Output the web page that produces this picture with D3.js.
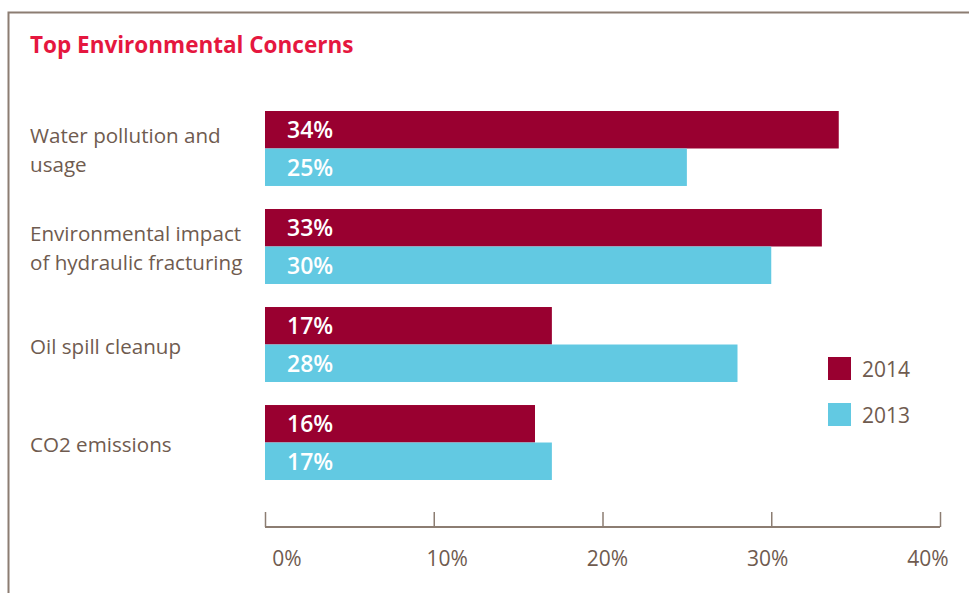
<!DOCTYPE html>
<html lang="en">
<head>
    <meta charset="UTF-8">
    <title>Top Environmental Concerns</title>
    <script src="https://d3js.org/d3.v7.min.js"></script>
    <style>
        html, body {
            margin: 0;
            background: #fff;
        }

        text {
            font-family: "Open Sans", "Noto Sans", sans-serif;
        }
    </style>
</head>
<body>
<div class="chart"></div>
<script>
    var categories = [["Water pollution and", "usage"], ["Environmental impact", "of hydraulic fracturing"], ["Oil spill cleanup"], ["CO2 emissions"]];
    var values2014 = [34, 33, 17, 16];
    var values2013 = [25, 30, 28, 17];
    var tickValues = [0, 10, 20, 30, 40];
    var series = ["2014", "2013"];

    var width = 969, height = 593;
    var brown = "#6f5b4f";
    var colors = {"2014": "#990030", "2013": "#62c9e2"};

    var svg = d3.select('.chart').append('svg').attr('width', width).attr('height', height);

    // frame
    svg.append('path')
        .attr('d', 'M8.5,593V12.5H969')
        .attr('fill', 'none')
        .attr('stroke', '#8c7d72')
        .attr('stroke-width', 2);

    svg.append('text')
        .attr('x', 30).attr('y', 53)
        .attr('fill', '#e5173f')
        .attr('font-size', 22.5)
        .attr('font-weight', 'bold')
        .text('Top Environmental Concerns');

    var x = d3.scaleLinear().domain([0, 40]).range([265, 940]);
    var y = d3.scaleBand().domain(d3.range(categories.length)).range([111, 480]).paddingInner(0.235).paddingOuter(0);
    var ySub = d3.scaleBand().domain(series).range([0, y.bandwidth()]);

    var groups = svg.selectAll('g.grp')
        .data(categories)
        .enter().append('g')
        .attr('class', 'grp')
        .attr('transform', function (d, i) { return 'translate(0,' + y(i) + ')'; });

    groups.each(function (cat, i) {
        var g = d3.select(this);
        var rows = [{s: "2014", v: values2014[i]}, {s: "2013", v: values2013[i]}];
        g.selectAll('rect').data(rows).enter().append('rect')
            .attr('x', x(0))
            .attr('y', function (d) { return ySub(d.s); })
            .attr('width', function (d) { return x(d.v) - x(0); })
            .attr('height', ySub.bandwidth())
            .attr('fill', function (d) { return colors[d.s]; });
        g.selectAll('text.val').data(rows).enter().append('text')
            .attr('class', 'val')
            .attr('x', 287)
            .attr('y', function (d) { return ySub(d.s) + ySub.bandwidth() / 2; })
            .attr('dy', '0.36em')
            .attr('fill', '#fff')
            .attr('font-size', 23)
            .attr('font-weight', 600)
            .text(function (d) { return d.v + '%'; });

        // category label
        var mid = y.bandwidth() / 2 + 2;
        var lh = 29;
        var t = g.append('text').attr('fill', brown).attr('font-size', 20.6);
        cat.forEach(function (line, k) {
            t.append('tspan')
                .attr('x', 30)
                .attr('y', mid + (k - (cat.length - 1) / 2) * lh)
                .attr('dy', '0.36em')
                .text(line);
        });
    });

    // axis
    var axis = d3.axisBottom(x).tickValues(tickValues).tickSize(15).tickSizeOuter(0).tickFormat('');
    var axisG = svg.append('g')
        .attr('transform', 'translate(0,527)')
        .call(axis);
    axisG.select('.domain').attr('stroke', '#8c7d72').attr('stroke-width', 2).attr('d', 'M' + x(0) + ',0H' + x(40));
    axisG.selectAll('.tick line').attr('stroke', '#8c7d72').attr('stroke-width', 1.5).attr('y1', 0).attr('y2', -15);

    var labelX = d3.scaleLinear().domain([0, 40]).range([287, 928]);
    svg.selectAll('text.tick-label').data(tickValues).enter().append('text')
        .attr('class', 'tick-label')
        .attr('x', function (d) { return labelX(d); })
        .attr('y', 566)
        .attr('text-anchor', 'middle')
        .attr('fill', brown)
        .attr('font-size', 21)
        .text(function (d) { return d + '%'; });

    // legend
    var legend = svg.selectAll('g.leg').data(series).enter().append('g')
        .attr('class', 'leg')
        .attr('transform', function (d, i) { return 'translate(828,' + (357 + i * 46) + ')'; });
    legend.append('rect').attr('width', 23).attr('height', 23).attr('fill', function (d) { return colors[d]; });
    legend.append('text').attr('x', 34).attr('y', 12).attr('dy', '0.36em')
        .attr('fill', brown).attr('font-size', 21).text(function (d) { return d; });
</script>
</body>
</html>
